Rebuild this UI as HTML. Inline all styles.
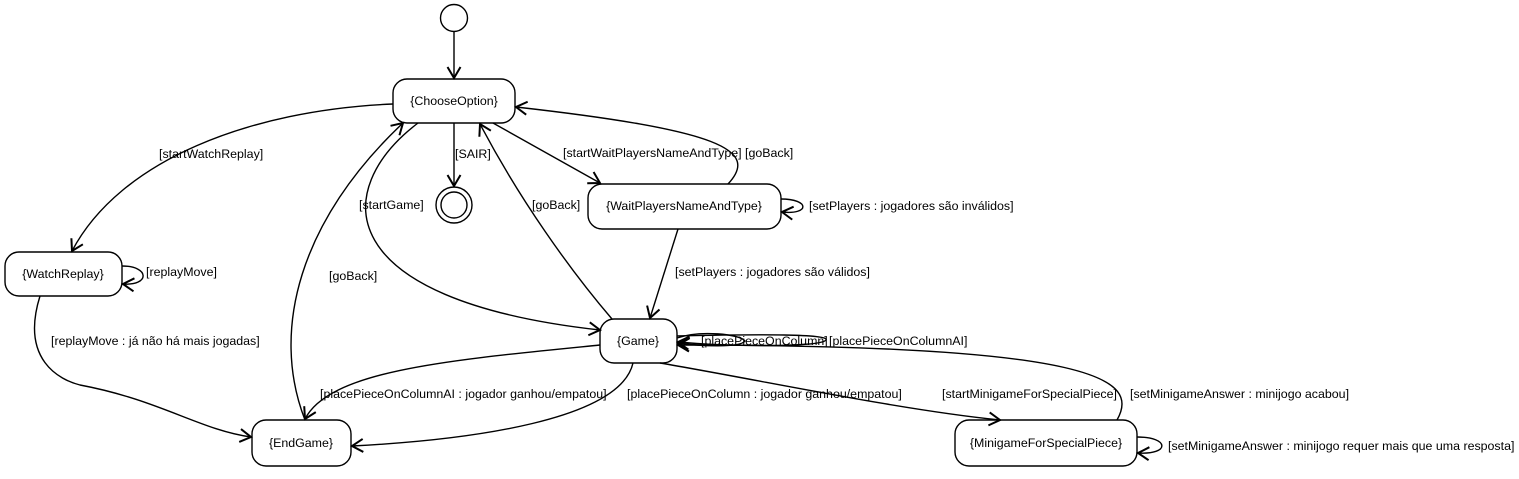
<!DOCTYPE html>
<html><head><meta charset="utf-8"><style>
body{margin:0;background:#fff;}
svg text{font-family:"Liberation Sans",sans-serif;font-size:12.4px;fill:#000;}
</style></head><body>
<svg width="1519" height="474" viewBox="0 0 1519 474" xmlns="http://www.w3.org/2000/svg">
<defs>
<marker id="a" markerWidth="16" markerHeight="16" refX="12" refY="8" orient="auto" markerUnits="userSpaceOnUse">
<path d="M1,1.5 L12,8 L1,14.5" fill="none" stroke="#000" stroke-width="2"/>
</marker>
</defs>
<g fill="none" stroke="#000" stroke-width="1.4">
<circle cx="454" cy="18" r="13.5"/>
<rect x="393" y="79" width="122" height="44" rx="14"/>
<circle cx="454" cy="205" r="18"/>
<circle cx="454" cy="205" r="13"/>
<rect x="588" y="184" width="193" height="45" rx="14"/>
<rect x="5" y="252" width="117" height="44" rx="14"/>
<rect x="600" y="319" width="77" height="44" rx="14"/>
<rect x="252" y="420" width="99" height="46" rx="14"/>
<rect x="955" y="420" width="182" height="46" rx="14"/>
</g>
<g fill="none" stroke="#000" stroke-width="1.4" marker-end="url(#a)">
<path d="M454 32 L454 78"/>
<path d="M454 123 L454 186"/>
<path d="M393 104 C250 110 120 160 72 251"/>
<path d="M122 266 C150 266 150 286 123 284"/>
<path d="M40 296 C20 360 60 380 80 385 C160 400 200 430 251 437"/>
<path d="M493 123 L600 183"/>
<path d="M728 184 C760 150 720 130 516 107"/>
<path d="M781 199 C810 199 810 215 782 212"/>
<path d="M678 229 L650 318"/>
<path d="M418 123 C330 190 330 300 600 330"/>
<path d="M612 319 C570 270 520 200 480 124"/>
<path d="M305 420 C270 330 300 220 403 123"/>
<path d="M600 345 C450 360 330 370 305 419"/>
<path d="M633 363 C620 420 470 440 352 446"/>
<path d="M677 336 C760 334 830 334 826 340 C820 348 720 346 678 342"/>
<path d="M677 338 C700 330 740 334 745 341 C740 348 700 346 678 343"/>
<path d="M660 363 C760 380 900 410 1000 420"/>
<path d="M1117 420 C1140 380 1100 345 678 345"/>
<path d="M1137 437 C1170 437 1170 455 1138 453"/>
</g>
<g text-anchor="middle">
<text x="454" y="105">{ChooseOption}</text>
<text x="684" y="210">{WaitPlayersNameAndType}</text>
<text x="63" y="278">{WatchReplay}</text>
<text x="638" y="345">{Game}</text>
<text x="301" y="447">{EndGame}</text>
<text x="1046" y="447">{MinigameForSpecialPiece}</text>
</g>
<text x="455" y="158">[SAIR]</text>
<text x="159" y="158">[startWatchReplay]</text>
<text x="563" y="157">[startWaitPlayersNameAndType]</text>
<text x="745" y="157">[goBack]</text>
<text x="809" y="210">[setPlayers : jogadores são inválidos]</text>
<text x="359" y="209">[startGame]</text>
<text x="532" y="209">[goBack]</text>
<text x="146" y="276">[replayMove]</text>
<text x="329" y="280">[goBack]</text>
<text x="675" y="276">[setPlayers : jogadores são válidos]</text>
<text x="51" y="345">[replayMove : já não há mais jogadas]</text>
<text x="701" y="345">[placePieceOnColumn]</text>
<text x="829" y="345">[placePieceOnColumnAI]</text>
<text x="320" y="398">[placePieceOnColumnAI : jogador ganhou/empatou]</text>
<text x="627" y="398">[placePieceOnColumn : jogador ganhou/empatou]</text>
<text x="942" y="398">[startMinigameForSpecialPiece]</text>
<text x="1130" y="398">[setMinigameAnswer : minijogo acabou]</text>
<text x="1168" y="450">[setMinigameAnswer : minijogo requer mais que uma resposta]</text>
</svg>
</body></html>
